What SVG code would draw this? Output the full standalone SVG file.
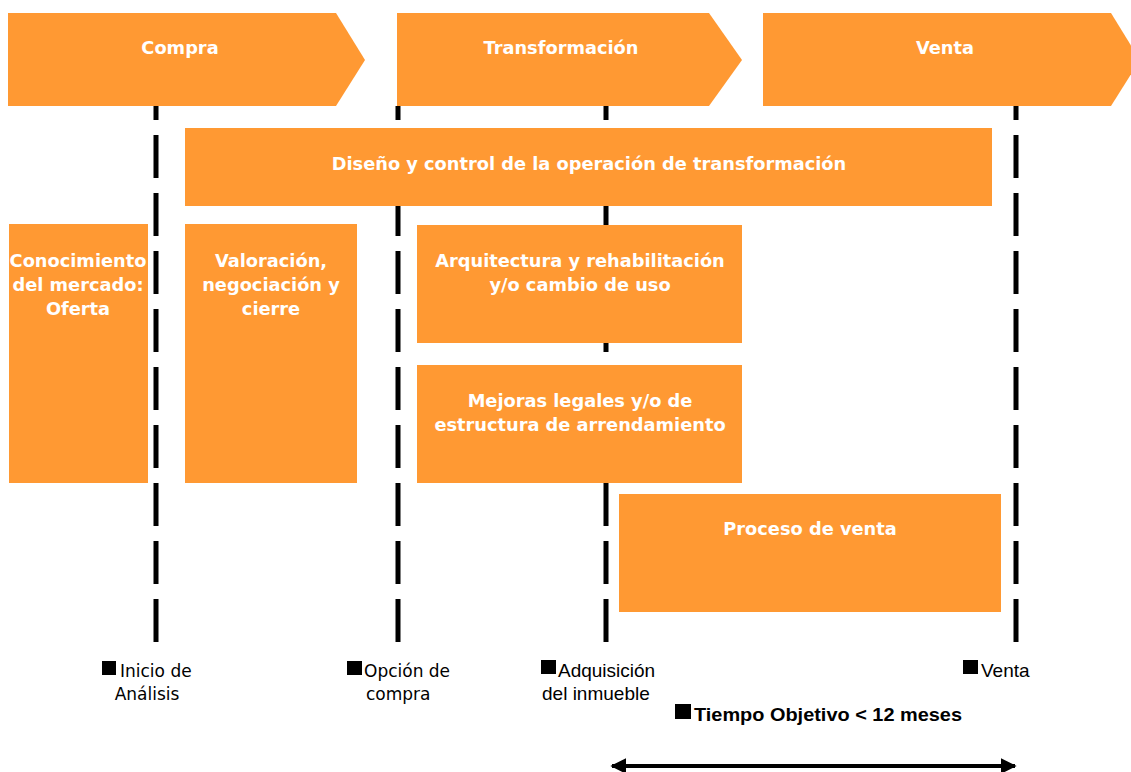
<svg xmlns="http://www.w3.org/2000/svg" width="1131" height="772" viewBox="0 0 1131 772">
<defs>
<style>
.box{fill:#FF9933}
.wt{fill:#FFFFFF;font-family:"DejaVu Sans",Verdana,sans-serif;font-weight:bold;font-size:17.8px;text-anchor:middle}
.dash{stroke:#000;stroke-width:5;stroke-dasharray:43 15;stroke-dashoffset:29;fill:none}
.lbl{fill:#000;font-family:"DejaVu Sans",Tahoma,sans-serif;font-size:17px}
.lbl2{fill:#000;font-family:"Liberation Sans",Arial,sans-serif;font-size:19px}
.sq{fill:#000}
</style>
<marker id="ah" viewBox="0 0 10 10" refX="9" refY="5" markerWidth="4" markerHeight="4" orient="auto-start-reverse" markerUnits="strokeWidth">
<path d="M0,0 L10,5 L0,10 z" fill="#000"/>
</marker>
</defs>
<rect width="1131" height="772" fill="#FFFFFF"/>
<g id="connectors">
<line class="dash" x1="156" y1="106" x2="156" y2="645"/>
<line class="dash" x1="398" y1="106" x2="398" y2="645"/>
<line class="dash" x1="606" y1="106" x2="606" y2="645"/>
<line class="dash" x1="1016" y1="106" x2="1016" y2="645"/>
<line x1="612" y1="766" x2="1015" y2="766" stroke="#000" stroke-width="4" marker-start="url(#ah)" marker-end="url(#ah)"/>
</g>
<g id="compra">
<polygon class="box" points="8,13 336,13 365,60 336,106 8,106"/>
<text class="wt" x="180" y="54">Compra</text>
</g>
<g id="transformacion">
<polygon class="box" points="397,13 709,13 742,60 709,106 397,106"/>
<text class="wt" x="561" y="54">Transformación</text>
</g>
<g id="venta">
<polygon class="box" points="763,13 1111,13 1140,60 1111,106 763,106"/>
<text class="wt" x="945" y="54">Venta</text>
</g>
<g id="diseno">
<rect class="box" x="185" y="128" width="807" height="78"/>
<text class="wt" x="589" y="170">Diseño y control de la operación de transformación</text>
</g>
<g id="conocimiento">
<rect class="box" x="9" y="224" width="139" height="259"/>
<text class="wt" x="78" y="267">Conocimiento</text>
<text class="wt" x="78" y="291">del mercado:</text>
<text class="wt" x="78" y="315">Oferta</text>
</g>
<g id="valoracion">
<rect class="box" x="185" y="224" width="172" height="259"/>
<text class="wt" x="271" y="267">Valoración,</text>
<text class="wt" x="271" y="291">negociación y</text>
<text class="wt" x="271" y="315">cierre</text>
</g>
<g id="arquitectura">
<rect class="box" x="417" y="225" width="325" height="118"/>
<text class="wt" x="580" y="267">Arquitectura y rehabilitación</text>
<text class="wt" x="580" y="291">y/o cambio de uso</text>
</g>
<g id="mejoras">
<rect class="box" x="417" y="365" width="325" height="118"/>
<text class="wt" x="580" y="407">Mejoras legales y/o de</text>
<text class="wt" x="580" y="431">estructura de arrendamiento</text>
</g>
<g id="proceso">
<rect class="box" x="619" y="494" width="382" height="118"/>
<text class="wt" x="810" y="535">Proceso de venta</text>
</g>
<g id="inicio">
<rect class="sq" x="102" y="661" width="14" height="14"/>
<text class="lbl" x="120" y="677">Inicio de</text>
<text class="lbl" x="147" y="700" text-anchor="middle">Análisis</text>
</g>
<g id="opcion">
<rect class="sq" x="347" y="661" width="15" height="14"/>
<text class="lbl" x="364" y="677">Opción de</text>
<text class="lbl" x="366" y="700">compra</text>
</g>
<g id="adquisicion">
<rect class="sq" x="541" y="660" width="15" height="14"/>
<text class="lbl2" x="558" y="677">Adquisición</text>
<text class="lbl2" x="542" y="700">del inmueble</text>
</g>
<g id="venta-hito">
<rect class="sq" x="963" y="660" width="15" height="14"/>
<text class="lbl2" x="981" y="677">Venta</text>
</g>
<g id="tiempo">
<rect class="sq" x="675" y="704" width="16" height="15"/>
<text class="lbl2" x="694" y="721" font-weight="bold" textLength="268" lengthAdjust="spacingAndGlyphs">Tiempo Objetivo &lt; 12 meses</text>
</g>
</svg>
